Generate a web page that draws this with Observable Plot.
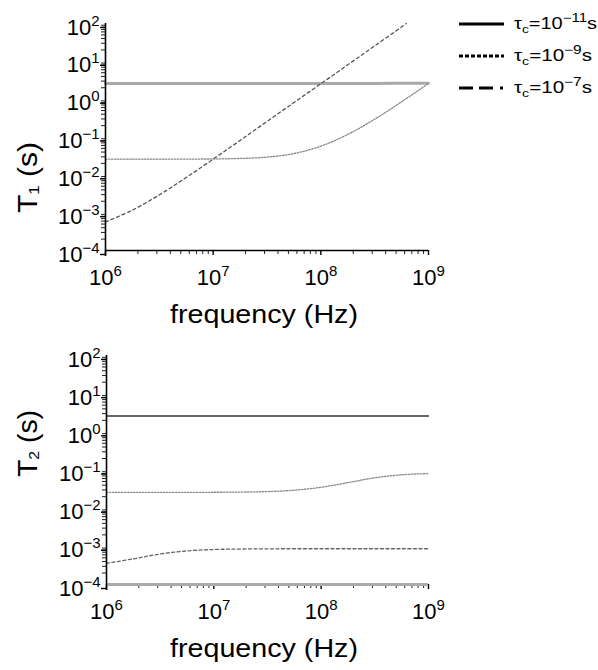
<!DOCTYPE html>
<html><head><meta charset="utf-8">
<script src="https://cdn.jsdelivr.net/npm/d3@7"></script>
<script src="https://cdn.jsdelivr.net/npm/@observablehq/plot@0.6"></script>
<style>
body{margin:0;background:#fff;}
#wrap{position:relative;width:598px;height:670px;font-family:"Liberation Sans",Arial,sans-serif;}
#wrap svg{position:absolute;left:0;}
</style></head><body><div id="wrap"></div>
<script>
// ---- data ----
const freq = [1e6, 1.78e6, 3.16e6, 5.62e6, 1e7, 1.78e7, 3.16e7, 5.62e7, 1e8, 1.78e8, 3.16e8, 5.62e8, 1e9];
const freqSlowT1 = [1e6, 1.78e6, 3.16e6, 5.62e6, 1e7, 1.78e7, 3.16e7, 5.62e7, 1e8, 1.78e8, 3.16e8, 5.62e8, 6.2e8];

const t1Tau11 = [2.60, 2.60, 2.60, 2.60, 2.60, 2.60, 2.60, 2.60, 2.60, 2.60, 2.61, 2.62, 2.63];
const t1Tau9  = [0.0260, 0.0260, 0.0260, 0.0261, 0.0263, 0.0271, 0.0294, 0.0365, 0.0573, 0.117, 0.295, 0.850, 2.60];
const t1Tau7  = [5.7e-4, 1.17e-3, 2.95e-3, 8.5e-3, 0.0260, 0.0814, 0.257, 0.811, 2.56, 8.10, 25.6, 81.0, 100];

const t2Tau11 = [2.60, 2.60, 2.60, 2.60, 2.60, 2.60, 2.60, 2.60, 2.60, 2.60, 2.60, 2.60, 2.60];
const t2Tau9  = [0.0260, 0.0260, 0.0260, 0.0260, 0.0261, 0.0264, 0.0272, 0.0296, 0.0353, 0.0467, 0.0625, 0.0750, 0.0805];
const t2Tau7  = [3.6e-4, 4.7e-4, 6.3e-4, 7.6e-4, 8.25e-4, 8.5e-4, 8.6e-4, 8.65e-4, 8.65e-4, 8.65e-4, 8.65e-4, 8.65e-4, 8.65e-4];

const legendExponents = ["−11", "−9", "−7"];
const xTicks = [1e6, 1e7, 1e8, 1e9];
const yTicks = [1e-4, 1e-3, 1e-2, 1e-1, 1e0, 1e1, 1e2];

// ---- helpers ----
const minorOf = (lo, hi) => {
  const out = [];
  for (let e = lo; e < hi; e++) for (let k = 2; k <= 9; k++) out.push(k * Math.pow(10, e));
  return out;
};
const xMinor = minorOf(6, 9);
const yMinor = minorOf(-4, 2);
const fmt = d => "10^" + String(Math.round(Math.log10(d))).replace("-", "−");
const rows = (xs, ys) => xs.map((f, i) => ({f, v: ys[i]}));

function panel({series, mt, mb, ml, xAxisColor, xAxisWidth}) {
  const svg = Plot.plot({
    width: 598, height: 335,
    marginLeft: ml, marginRight: 170, marginTop: mt, marginBottom: mb,
    x: {type: "log", domain: [1e6, 1e9]},
    y: {type: "log", domain: [1e-4, 1e2]},
    style: {fontFamily: "'Liberation Sans', Arial, sans-serif", fontSize: "22px", background: "transparent", color: "#000", overflow: "visible"},
    marks: [
      Plot.axisY({ticks: yMinor, tickSize: 4, tickFormat: () => "", label: null, stroke: "#222", strokeWidth: 1}),
      Plot.axisY({ticks: yTicks, tickSize: 5, tickPadding: 1, tickFormat: fmt, dy: 4, label: null, strokeWidth: 1.4}),
      Plot.axisX({ticks: xMinor, tickSize: 4, tickFormat: () => "", label: null, stroke: "#222", strokeWidth: 1}),
      Plot.axisX({ticks: xTicks, tickSize: 5, tickPadding: 14, tickFormat: fmt, label: null, strokeWidth: 1.4}),
      ...series.map(s => Plot.line(rows(s.x, s.y), {
        x: "f", y: "v", curve: "catmull-rom",
        stroke: s.stroke, strokeWidth: s.width, strokeDasharray: s.dash
      })),
      Plot.ruleY([1e-4], {stroke: xAxisColor, strokeWidth: xAxisWidth}),
      Plot.ruleX([1e6], {stroke: "#000", strokeWidth: 1.6, insetBottom: -6})
    ]
  });
  d3.select(svg).selectAll('g[aria-label$="tick label"] text').each(function () {
    const s = this.textContent;
    if (!s.includes("^")) return;
    const [b, e] = s.split("^");
    const t = d3.select(this);
    t.text("");
    t.append("tspan").text(b);
    t.append("tspan").attr("font-size", 15).attr("dy", -9).text(e);
  });
  return svg;
}

function addLabels(svg, sub, yStart, yLen, xLabelY) {
  const g = d3.select(svg).append("g").attr("font-family", "'Liberation Sans', Arial, sans-serif").attr("fill", "#000");
  g.append("text").attr("x", 264).attr("y", xLabelY).attr("text-anchor", "middle")
    .attr("font-size", 26).attr("textLength", 188).attr("lengthAdjust", "spacingAndGlyphs")
    .text("frequency (Hz)");
  const t = g.append("text").attr("transform", `translate(37,${yStart}) rotate(-90)`)
    .attr("text-anchor", "start")
    .attr("font-size", 27).attr("textLength", yLen).attr("lengthAdjust", "spacingAndGlyphs");
  t.append("tspan").text("T");
  t.append("tspan").attr("font-size", 15).attr("dy", 2).text(sub);
  t.append("tspan").attr("dy", -2).text(" (s)");
}

const wrap = document.getElementById("wrap");

// ---- top panel: T1 ----
const topSvg = panel({
  mt: 23, mb: 85, ml: 105, xAxisColor: "#000", xAxisWidth: 1.5,
  series: [
    {x: freq, y: t1Tau11, stroke: "#a9a9a9", width: 3, dash: null},
    {x: freq, y: t1Tau9, stroke: "#8a8a8a", width: 1.3, dash: "1.5,1.5"},
    {x: freqSlowT1, y: t1Tau7, stroke: "#555", width: 1.3, dash: "3,3"}
  ]
});
topSvg.style.top = "0px";
addLabels(topSvg, "1", 213, 71, 323);

// legend
const lg = d3.select(topSvg).append("g").attr("font-family", "'Liberation Sans', Arial, sans-serif").attr("text-anchor", "start");
const legendDash = [null, "4,2", "14,6,14,7,3,100"];
const legendY = [24, 56, 88];
const legendLen = [83, 78, 78];
legendExponents.forEach((ex, i) => {
  lg.append("line").attr("x1", 459).attr("x2", 504).attr("y1", legendY[i]).attr("y2", legendY[i])
    .attr("stroke", "#000").attr("stroke-width", 3).attr("stroke-dasharray", legendDash[i]);
  const t = lg.append("text").attr("x", 514).attr("y", legendY[i] + 5).attr("font-size", 16)
    .attr("text-anchor", "start")
    .attr("textLength", legendLen[i]).attr("lengthAdjust", "spacingAndGlyphs");
  t.append("tspan").text("τ");
  t.append("tspan").attr("font-size", 11).attr("dy", 4).text("c");
  t.append("tspan").attr("dy", -4).text("=10");
  t.append("tspan").attr("font-size", 12).attr("dy", -7).text(ex);
  t.append("tspan").attr("dy", 7).text("s");
});
wrap.appendChild(topSvg);

// ---- bottom panel: T2 ----
const bottomSvg = panel({
  mt: 20, mb: 86, ml: 106, xAxisColor: "#aaa", xAxisWidth: 3,
  series: [
    {x: freq, y: t2Tau11, stroke: "#333", width: 1.5, dash: null},
    {x: freq, y: t2Tau9, stroke: "#8a8a8a", width: 1.3, dash: "1.5,1.5"},
    {x: freq, y: t2Tau7, stroke: "#666", width: 1.3, dash: "3,2.5"}
  ]
});
bottomSvg.style.top = "335px";
addLabels(bottomSvg, "2", 142, 67, 322);
wrap.appendChild(bottomSvg);
</script>
</body></html>
